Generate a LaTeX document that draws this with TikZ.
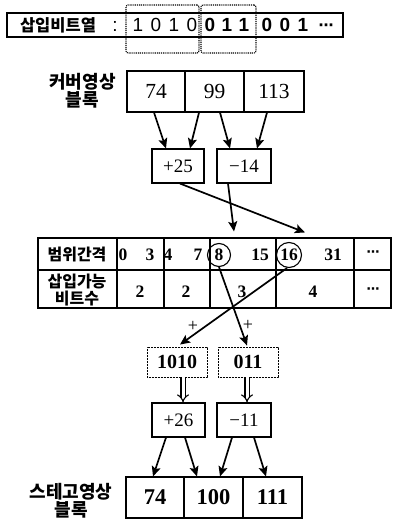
\documentclass[tikz,border=0pt]{standalone}
\usepackage{fontspec}
\setmainfont{Liberation Serif}
\setsansfont{Liberation Sans}
\newfontfamily\krfont{Noto Sans CJK KR}
\newfontfamily\dvfont{DejaVu Sans}
\usetikzlibrary{arrows.meta,calc}
\tikzset{
  cell/.style={draw,line width=1.1pt,inner sep=0pt},
  blk/.style={cell,minimum height=41pt},
  opbox/.style={cell,minimum height=34pt,font=\fontsize{19pt}{19pt}\selectfont},
  bitbox/.style={draw,line width=0.9pt,dash pattern=on 0.8pt off 0.7pt,inner sep=0pt,
    minimum height=30pt,minimum width=60pt,font=\bfseries\fontsize{20pt}{20pt}\selectfont},
  grp/.style={draw,line width=1.1pt,dash pattern=on 1pt off 0.9pt,rounded corners=2pt,
    inner sep=0pt,minimum height=48pt},
  kr/.style={font=\krfont\bfseries\fontsize{18pt}{15pt}\selectfont,align=center,inner sep=0pt},
  krtop/.style={font=\krfont\bfseries\fontsize{16.5pt}{16pt}\selectfont,inner sep=0pt},
  krt/.style={font=\krfont\bfseries\fontsize{16pt}{17pt}\selectfont,align=center,inner sep=0pt},
  bit/.style={font=\sffamily\fontsize{19pt}{19pt}\selectfont,inner sep=0pt},
  bitb/.style={font=\sffamily\bfseries\fontsize{19pt}{19pt}\selectfont,inner sep=0pt},
  tnum/.style={font=\bfseries\fontsize{17.5pt}{17.5pt}\selectfont,inner sep=0pt},
  circ/.style={draw,circle,line width=1.1pt,inner sep=0pt,font=\bfseries\fontsize{17.5pt}{17.5pt}\selectfont},
  arr/.style={line width=1.7pt,-{Stealth[length=10pt,width=9pt,inset=2pt]}},
  dbl/.style={double,double distance=3pt,line width=1.1pt,-{Implies[scale=1.6]}},
  plusmark/.style={font=\fontsize{18pt}{18pt}\selectfont,inner sep=0pt}
}
\begin{document}
\begin{tikzpicture}[x=1pt,y=-1pt]
\useasboundingbox (0,0) rectangle (392,521);

% top bit string
\node[draw,line width=1.2pt,minimum width=336pt,minimum height=24pt,inner sep=0pt] (top) at (175,25) {};
\node[krtop] (toplab) at (58,25) {삽입비트열};
\node[bit] (colon) at (115,26) {:};
\node[bit] (d1) at (138,25) {1};
\node[bit] (d2) at (156,25) {0};
\node[bit] (d3) at (174,25) {1};
\node[bit] (d4) at (192,25) {0};
\node[bitb] (d5) at (210,25) {0};
\node[bitb] (d6) at (227,25) {1};
\node[bitb] (d7) at (244,25) {1};
\node[bitb] (d8) at (267,25) {0};
\node[bitb] (d9) at (285,25) {0};
\node[bitb] (d10) at (303,25) {1};
\node[font=\dvfont\bfseries\fontsize{15pt}{15pt}\selectfont,inner sep=0pt] (d11) at (326,27) {⋯};
\node[grp,minimum width=73pt] (g1) at (162.5,29) {};
\node[grp,minimum width=55pt] (g2) at (228.5,29) {};

% cover block
\node[kr] (cvlab) at (82.5,90.5) {커버영상\\블록};
\node[blk,minimum width=58pt,font=\fontsize{21.5pt}{21.5pt}\selectfont] (c1) at (156,91.5) {74};
\node[blk,minimum width=59pt,font=\fontsize{21.5pt}{21.5pt}\selectfont] (c2) at (214.5,91.5) {99};
\node[blk,minimum width=60pt,font=\fontsize{21.5pt}{21.5pt}\selectfont] (c3) at (274,91.5) {113};

% differences
\node[opbox,minimum width=52pt] (p25) at (178,166) {+25};
\node[opbox,minimum width=54pt] (m14) at (244,166) {−14};

\draw[arr] ([xshift=-2pt]c1.south) -- ([xshift=-12pt]p25.north);
\draw[arr] ([xshift=-15.5pt]c2.south) -- ([xshift=12pt]p25.north);
\draw[arr] ([xshift=5.5pt]c2.south) -- ([xshift=-14pt]m14.north);
\draw[arr] ([xshift=-7pt]c3.south) -- ([xshift=13pt]m14.north);

% table
\node[cell,minimum width=79pt,minimum height=32pt] (r1c1) at (77.5,254) {};
\node[cell,minimum width=47pt,minimum height=32pt] (r1c2) at (140.5,254) {};
\node[cell,minimum width=46pt,minimum height=32pt] (r1c3) at (187,254) {};
\node[cell,minimum width=66pt,minimum height=32pt] (r1c4) at (243,254) {};
\node[cell,minimum width=78pt,minimum height=32pt] (r1c5) at (315,254) {};
\node[cell,minimum width=37pt,minimum height=32pt] (r1c6) at (372.5,254) {};
\node[cell,minimum width=79pt,minimum height=38pt] (r2c1) at (77.5,289) {};
\node[cell,minimum width=47pt,minimum height=38pt] (r2c2) at (140.5,289) {};
\node[cell,minimum width=46pt,minimum height=38pt] (r2c3) at (187,289) {};
\node[cell,minimum width=66pt,minimum height=38pt] (r2c4) at (243,289) {};
\node[cell,minimum width=78pt,minimum height=38pt] (r2c5) at (315,289) {};
\node[cell,minimum width=37pt,minimum height=38pt] (r2c6) at (372.5,289) {};

\node[krt] (tl1) at (77,254) {범위간격};
\node[krt] (tl2) at (77,290.5) {삽입가능\\비트수};

\node[tnum] (n0) at (123,255) {0};
\node[tnum] (n3) at (150,255) {3};
\node[tnum] (n4) at (168,255) {4};
\node[tnum] (n7) at (198,255) {7};
\node[circ,minimum size=23pt] (o8) at (219,255) {8};
\node[tnum] (n15) at (260,255) {15};
\node[circ,minimum size=25pt] (o16) at (289,255) {16};
\node[tnum] (n31) at (333,255) {31};
\node[font=\dvfont\bfseries\fontsize{13pt}{13pt}\selectfont,inner sep=0pt] (e1) at (373,254) {⋯};

\node[tnum] (b2a) at (140,292) {2};
\node[tnum] (b2b) at (186,292) {2};
\node[tnum] (b3) at (242,292) {3};
\node[tnum] (b4) at (313,292) {4};
\node[font=\dvfont\bfseries\fontsize{13pt}{13pt}\selectfont,inner sep=0pt] (e2) at (373,291) {⋯};

\draw[arr] ([xshift=2pt]p25.south) -- ([xshift=-10pt,yshift=5pt]r1c5.north);
\draw[arr] ([xshift=-16pt]m14.south) -- ([xshift=-9pt,yshift=6pt]r1c4.north);

% extracted bits
\node[bitbox] (b1010) at (177,362) {1010};
\node[bitbox] (b011) at (248,362) {011};

\draw[arr] (o8.south) -- ([xshift=-1pt,yshift=1pt]b011.north);
\draw[arr] ([xshift=-2pt]o16.south) -- ([xshift=3pt,yshift=2pt]b1010.north);
\node[plusmark] (pl1) at (193,326) {+};
\node[plusmark] (pl2) at (248,325) {+};

% new differences
\node[opbox,minimum width=53pt] (p26) at (178.5,420) {+26};
\node[opbox,minimum width=54pt] (m11) at (244,420) {−11};

\draw[dbl] ([xshift=6pt]b1010.south) -- ([xshift=4.5pt]p26.north);
\draw[dbl] ([xshift=-1pt]b011.south) -- ([xshift=3pt]m11.north);

% stego block
\node[kr] (stlab) at (71,500.5) {스테고영상\\블록};
\node[blk,minimum width=58pt,font=\bfseries\fontsize{22.5pt}{22.5pt}\selectfont] (s1) at (155,497.5) {74};
\node[blk,minimum width=59pt,font=\bfseries\fontsize{22.5pt}{22.5pt}\selectfont] (s2) at (213.5,497.5) {100};
\node[blk,minimum width=59pt,font=\bfseries\fontsize{22.5pt}{22.5pt}\selectfont] (s3) at (272.5,497.5) {111};

\draw[arr] ([xshift=-12.5pt]p26.south) -- ([xshift=-2pt]s1.north);
\draw[arr] ([xshift=6.5pt]p26.south) -- ([xshift=-16.5pt]s2.north);
\draw[arr] ([xshift=-12pt]m11.south) -- ([xshift=6.5pt]s2.north);
\draw[arr] ([xshift=10pt]m11.south) -- ([xshift=-6.5pt]s3.north);
\end{tikzpicture}
\end{document}
